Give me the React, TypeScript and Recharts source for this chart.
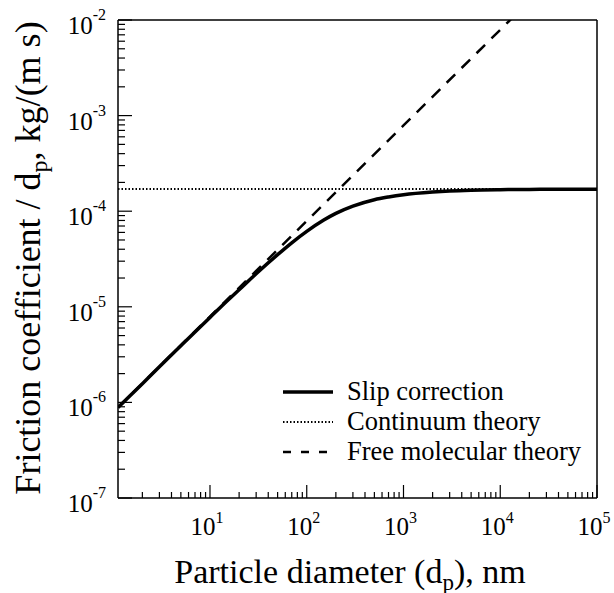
import React from "react";
import { LineChart, Line, XAxis, YAxis, Legend } from "recharts";

// diameters in nm, friction coefficient / dp in kg/(m s)
const slipDiameters = [
    1.12, 1.5, 2, 3, 5, 7, 10, 15, 20, 30, 50, 70, 100, 150, 200, 300, 500,
    700, 1000, 2000, 3000, 5000, 10000, 20000, 50000, 100000,
];
const slipFriction = [
    8.83e-7, 1.18e-6, 1.57e-6, 2.36e-6, 3.91e-6, 5.45e-6, 7.74e-6, 1.15e-5,
    1.51e-5, 2.22e-5, 3.51e-5, 4.67e-5, 6.15e-5, 8.08e-5, 9.49e-5, 1.13e-4,
    1.32e-4, 1.41e-4, 1.49e-4, 1.59e-4, 1.63e-4, 1.66e-4, 1.68e-4, 1.69e-4,
    1.7e-4, 1.7e-4,
];

const continuumDiameters = [1.12, 100000];
const continuumFriction = [1.706e-4, 1.706e-4];

const freeMolDiameters = [1.12, 10, 100, 1000, 10000, 20000];
const freeMolFriction = [8.85e-7, 7.9e-6, 7.9e-5, 7.9e-4, 7.9e-3, 1.58e-2];

const xMajorTicks = [10, 100, 1000, 10000, 100000];
const yMajorTicks = [1e-7, 1e-6, 1e-5, 1e-4, 1e-3, 1e-2];
const minorSteps = [2, 3, 4, 5, 6, 7, 8, 9];

const legendItems = [
    { name: "Slip correction", width: 3.5, dash: undefined },
    { name: "Continuum theory", width: 1.8, dash: "1.5 2" },
    { name: "Free molecular theory", width: 2.5, dash: "8 10" },
];

const FONT = "'Liberation Serif', 'Times New Roman', serif";

const zip = (xs: number[], ys: number[]) => xs.map((d, i) => ({ d, f: ys[i] }));

const slipData = zip(slipDiameters, slipFriction);
const continuumData = zip(continuumDiameters, continuumFriction);
const freeMolData = zip(freeMolDiameters, freeMolFriction);

const xTicks = [
    ...[1, 10, 100, 1000, 10000].flatMap((dec) => minorSteps.map((s) => s * dec)),
    ...xMajorTicks,
].sort((a, b) => a - b);
const yTicks = [
    ...[1e-7, 1e-6, 1e-5, 1e-4, 1e-3].flatMap((dec) => minorSteps.map((s) => s * dec)),
    ...yMajorTicks,
].sort((a, b) => a - b);

const exponentOf = (v: number) => {
    const l = Math.log10(v);
    const e = Math.round(l);
    return { e, major: Math.abs(l - e) < 1e-6 };
};

const XTick = (props: any) => {
    const { x, y, payload } = props;
    const { e, major } = exponentOf(payload.value);
    return (
        <g>
            <line x1={x} y1={y} x2={x} y2={y - (major ? 13 : 6)} stroke="#000" strokeWidth={1.2} />
            {major && (
                <text x={x - 3} y={y + 37} textAnchor="middle" fontFamily={FONT} fontSize={25} fill="#000">
                    10
                    <tspan dy={-12} fontSize={16}>{e}</tspan>
                </text>
            )}
        </g>
    );
};

const YTick = (props: any) => {
    const { x, y, payload } = props;
    const { e, major } = exponentOf(payload.value);
    return (
        <g>
            <line x1={x} y1={y} x2={x + (major ? 14 : 7)} y2={y} stroke="#000" strokeWidth={1.2} />
            {major && (
                <text x={x - 12} y={y + 14} textAnchor="end" fontFamily={FONT} fontSize={25} fill="#000">
                    10
                    <tspan dy={-14} fontSize={16}>{e}</tspan>
                </text>
            )}
        </g>
    );
};

const renderLegend = () => (
    <svg width={330} height={100} style={{ overflow: "visible" }}>
        {legendItems.map((item, i) => (
            <g key={item.name}>
                <line
                    x1={7}
                    x2={57}
                    y1={14 + i * 30}
                    y2={14 + i * 30}
                    stroke="#000"
                    strokeWidth={item.width}
                    strokeDasharray={item.dash}
                />
                <text x={71} y={22 + i * 30} fontFamily={FONT} fontSize={26.5} fill="#000">
                    {item.name}
                </text>
            </g>
        ))}
    </svg>
);

const XTitle = () => (
    <text x={350} y={583} textAnchor="middle" fontFamily={FONT} fontSize={34} fill="#000">
        Particle diameter (d<tspan dy={7} fontSize={23}>p</tspan>
        <tspan dy={-7}>), nm</tspan>
    </text>
);

const YTitle = () => (
    <text
        x={40}
        y={258}
        transform="rotate(-90, 40, 258)"
        textAnchor="middle"
        fontFamily={FONT}
        fontSize={36}
        fill="#000"
    >
        Friction coefficient / d<tspan dy={7} fontSize={24}>p</tspan>
        <tspan dy={-7}>, kg/(m s)</tspan>
    </text>
);

export default function App() {
    return (
        <div style={{ position: "absolute", left: 0, top: 0, background: "#fff" }}>
            <LineChart
                width={614}
                height={593}
                margin={{ top: 19, right: 16, bottom: 94, left: 0 }}
            >
                <XAxis
                    dataKey="d"
                    type="number"
                    scale="log"
                    domain={[1.12, 100000]}
                    allowDataOverflow
                    ticks={xTicks}
                    interval={0}
                    height={1}
                    tickSize={0}
                    tickMargin={0}
                    tickLine={false}
                    tick={<XTick />}
                    axisLine={{ stroke: "#000", strokeWidth: 1.5 }}
                    label={{ content: () => <XTitle /> }}
                />
                <XAxis
                    xAxisId="top"
                    orientation="top"
                    type="number"
                    scale="log"
                    domain={[1.12, 100000]}
                    allowDataOverflow
                    height={1}
                    tick={false}
                    tickLine={false}
                    axisLine={{ stroke: "#000", strokeWidth: 1.5 }}
                />
                <YAxis
                    type="number"
                    scale="log"
                    domain={[1e-7, 1e-2]}
                    allowDataOverflow
                    ticks={yTicks}
                    interval={0}
                    width={118}
                    tickSize={0}
                    tickMargin={0}
                    tickLine={false}
                    tick={<YTick />}
                    axisLine={{ stroke: "#000", strokeWidth: 1.5 }}
                    label={{ content: () => <YTitle /> }}
                />
                <YAxis
                    yAxisId="right"
                    orientation="right"
                    type="number"
                    scale="log"
                    domain={[1e-7, 1e-2]}
                    allowDataOverflow
                    width={1}
                    tick={false}
                    tickLine={false}
                    axisLine={{ stroke: "#000", strokeWidth: 1.5 }}
                />
                <Line
                    data={continuumData}
                    dataKey="f"
                    name="Continuum theory"
                    type="linear"
                    stroke="#000"
                    strokeWidth={2}
                    strokeDasharray="1.5 2"
                    dot={false}
                    isAnimationActive={false}
                />
                <Line
                    data={freeMolData}
                    dataKey="f"
                    name="Free molecular theory"
                    type="linear"
                    stroke="#000"
                    strokeWidth={2.5}
                    strokeDasharray="12 9"
                    dot={false}
                    isAnimationActive={false}
                />
                <Line
                    data={slipData}
                    dataKey="f"
                    name="Slip correction"
                    type="monotone"
                    stroke="#000"
                    strokeWidth={3.5}
                    dot={false}
                    isAnimationActive={false}
                />
                <Legend
                    layout="vertical"
                    align="center"
                    verticalAlign="middle"
                    content={renderLegend}
                    wrapperStyle={{ position: "absolute", left: 276, top: 378, width: 330, height: 100 }}
                />
            </LineChart>
        </div>
    );
}
